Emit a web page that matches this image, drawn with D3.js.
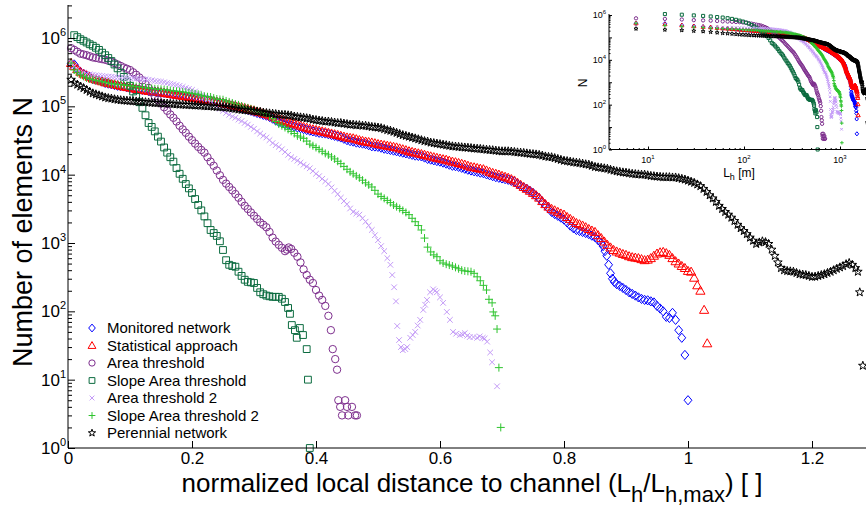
<!DOCTYPE html>
<html>
<head>
<meta charset="utf-8">
<script src="https://cdn.jsdelivr.net/npm/d3@7"></script>
<style>
  body { margin: 0; background: #fff; }
  svg text { font-family: "Liberation Sans", Arial, Helvetica, sans-serif; fill: #000; }
</style>
</head>
<body>
<div id="container"></div>
<script>
/**
 * CONSTANTS AND GLOBALS
 * */
const width = 866,
  height = 509;

// L_h,max in metres: the inset shows the same counts against L_h itself
const LH_MAX = 1500;

/**
 * DATA  number of elements N.
 * "...Body" arrays hold one value per bin of 0.005 (L_h/L_h,max),
 * first bin at 0.005, ten bins per line.
 * "...Tail" arrays hold the sparse end of each curve as [x, N].
 * */
const BIN_STEP = 0.005;

const monitoredBody = [
  4.2e5,4.1e5,3.5e5,3.2e5,3e5,2.8e5,2.65e5,2.5e5,2.45e5,2.4e5,
  2.3e5,2.2e5,2.15e5,2.1e5,2.05e5,2e5,1.98e5,1.95e5,1.9e5,1.86e5,
  1.83e5,1.8e5,1.77e5,1.74e5,1.71e5,1.68e5,1.66e5,1.65e5,1.62e5,1.6e5,
  1.57e5,1.55e5,1.52e5,1.5e5,1.48e5,1.47e5,1.43e5,1.4e5,1.38e5,1.37e5,
  1.33e5,1.3e5,1.29e5,1.28e5,1.25e5,1.22e5,1.19e5,1.16e5,1.14e5,1.12e5,
  1.09e5,1.06e5,1.03e5,1.01e5,9.8e4,9.5e4,9.2e4,8.9e4,8.6e4,8.3e4,
  8e4,7.8e4,7.5e4,7.3e4,7e4,6.6e4,6.2e4,5.9e4,5.7e4,5.5e4,
  5.35e4,5.2e4,5.05e4,4.9e4,4.8e4,4.65e4,4.5e4,4.4e4,4.3e4,4.2e4,
  4.1e4,4.05e4,4e4,3.9e4,3.8e4,3.7e4,3.6e4,3.5e4,3.35e4,3.2e4,
  3.1e4,3.05e4,2.95e4,2.9e4,2.85e4,2.8e4,2.7e4,2.6e4,2.58e4,2.55e4,
  2.48e4,2.4e4,2.35e4,2.3e4,2.25e4,2.2e4,2.15e4,2.1e4,2.05e4,2e4,
  1.95e4,1.9e4,1.88e4,1.85e4,1.78e4,1.7e4,1.66e4,1.62e4,1.58e4,1.55e4,
  1.5e4,1.45e4,1.4e4,1.35e4,1.33e4,1.3e4,1.26e4,1.22e4,1.18e4,1.15e4,
  1.12e4,1.1e4,1.07e4,1.05e4,1.01e4,9.8e3,9.5e3,9.2e3,9e3,8.8e3,
  8.6e3,8.4e3,8.1e3,7.8e3,7.3e3,6.8e3,6.5e3,6.2e3,5.8e3,5.4e3,
  4.9e3,4.5e3,4e3,3.6e3,3.2e3,2.85e3,2.65e3,2.5e3,2.35e3,2.2e3,
  2e3,1.8e3,1.65e3,1.55e3,1.5e3,1.45e3,1.4e3,1.35e3,1.28e3,1.22e3,
  1.1e3,1e3
];
const monitoredTail = [
  [0.863,900],[0.866,760],[0.869,650],[0.872,480],[0.875,360],[0.878,300],[0.881,270],[0.885,250],[0.89,235],[0.895,220],
  [0.9,205],[0.905,190],[0.91,180],[0.915,170],[0.92,160],[0.925,152],[0.93,147],[0.935,145],[0.94,140],[0.945,135],
  [0.95,120],[0.955,110],[0.96,100],[0.965,83],[0.97,80],[0.975,95],[0.98,75],[0.985,53],[0.99,41],[0.995,23],[1.0,5]
];

const statisticalBody = [
  4.3e5,3.9e5,3.5e5,3.2e5,3e5,2.85e5,2.7e5,2.55e5,2.48e5,2.4e5,
  2.32e5,2.25e5,2.2e5,2.15e5,2.1e5,2.05e5,2e5,1.95e5,1.92e5,1.88e5,
  1.84e5,1.8e5,1.77e5,1.74e5,1.71e5,1.68e5,1.66e5,1.64e5,1.62e5,1.6e5,
  1.57e5,1.55e5,1.52e5,1.5e5,1.47e5,1.45e5,1.42e5,1.4e5,1.37e5,1.35e5,
  1.32e5,1.3e5,1.28e5,1.26e5,1.24e5,1.22e5,1.19e5,1.17e5,1.14e5,1.12e5,
  1.09e5,1.07e5,1.04e5,1.02e5,9.9e4,9.7e4,9.4e4,9.2e4,8.9e4,8.7e4,
  8.4e4,8.2e4,7.9e4,7.7e4,7.4e4,7.1e4,6.8e4,6.5e4,6.3e4,6.1e4,
  5.9e4,5.7e4,5.55e4,5.4e4,5.2e4,5e4,4.85e4,4.7e4,4.6e4,4.5e4,
  4.4e4,4.3e4,4.2e4,4.1e4,4e4,3.9e4,3.8e4,3.7e4,3.6e4,3.5e4,
  3.45e4,3.4e4,3.3e4,3.2e4,3.12e4,3.05e4,3e4,2.95e4,2.88e4,2.8e4,
  2.75e4,2.7e4,2.65e4,2.6e4,2.55e4,2.5e4,2.42e4,2.35e4,2.28e4,2.2e4,
  2.15e4,2.1e4,2.05e4,2e4,1.95e4,1.9e4,1.85e4,1.8e4,1.76e4,1.72e4,
  1.68e4,1.65e4,1.6e4,1.55e4,1.52e4,1.48e4,1.44e4,1.4e4,1.35e4,1.3e4,
  1.28e4,1.25e4,1.22e4,1.2e4,1.15e4,1.1e4,1.06e4,1.03e4,1e4,9.6e3,
  9.3e3,9e3,8.6e3,8.2e3,7.6e3,7.1e3,6.6e3,6.2e3,5.8e3,5.4e3,
  5e3,4.6e3,4.1e3,3.7e3,3.4e3,3.15e3,3e3,2.85e3,2.7e3,2.6e3,
  2.4e3,2.25e3,2.1e3,1.96e3,1.88e3,1.8e3,1.7e3,1.6e3,1.52e3,1.45e3,
  1.3e3,1.18e3,1.05e3,940,860,790,750,720,690,670,
  640,620,610,600,580,560,570,600,650,700,
  730,740,710,670,600,540,500,460
];
const statisticalTail = [
  [0.995,430],[1.0,390],[1.005,380],[1.01,310],[1.015,240],[1.02,200],[1.026,105],[1.031,34]
];

const areaBody = [
  7.1e5,6.7e5,6.3e5,5.9e5,5.75e5,5.6e5,5.4e5,5.2e5,5.1e5,5e5,
  4.9e5,4.8e5,4.65e5,4.5e5,4.3e5,4.1e5,3.9e5,3.7e5,3.55e5,3.4e5,
  3.15e5,2.9e5,2.65e5,2.4e5,2.1e5,1.86e5,1.6e5,1.4e5,1.25e5,1.1e5,
  9.7e4,8.6e4,7.6e4,6.8e4,6e4,5.2e4,4.6e4,4.1e4,3.6e4,3.2e4,
  2.85e4,2.55e4,2.3e4,2.1e4,1.8e4,1.55e4,1.35e4,1.15e4,9.8e3,8.4e3,
  7.4e3,6.6e3,5.9e3,5.2e3,4.6e3,4e3,3.5e3,3.15e3,2.8e3,2.5e3,
  2.25e3,2e3,1.85e3,1.7e3,1.45e3,1.2e3,1.05e3,940
];
const areaTail = [
  [0.345,850],[0.35,760],[0.353,800],[0.356,860],[0.36,820],[0.365,720],[0.37,630],[0.375,520],[0.38,410],[0.385,340],
  [0.39,290],[0.395,260],[0.4,205],[0.405,170],[0.41,147],[0.415,120],[0.42,86],[0.424,53],[0.427,28],[0.431,20],
  [0.434,14],[0.436,5],[0.447,5],[0.439,4],[0.45,4],[0.458,4],[0.442,3],[0.452,3],[0.463,3],[0.466,3]
];

const slopeAreaBody = [
  null,1.1e6,1.03e6,9.6e5,9.1e5,8.6e5,8.1e5,7.7e5,7.2e5,6.7e5,
  6.1e5,5.6e5,5.1e5,4.6e5,4.1e5,3.6e5,3.1e5,2.7e5,2.3e5,2e5,
  1.65e5,1.37e5,1.15e5,9.5e4,7.4e4,5.7e4,5e4,4.3e4,3.6e4,3.05e4,
  2.5e4,2.1e4,1.8e4,1.55e4,1.25e4,1.03e4,8.7e3,7.3e3,6.3e3,5.4e3,
  4.4e3,3.6e3,3e3,2.45e3,1.95e3,1.55e3,1.4e3,1.27e3,1.06e3,790
];
const slopeAreaTail = [
  [0.255,560],[0.26,480],[0.265,460],[0.27,450],[0.275,380],[0.28,330],[0.285,290],[0.29,270],[0.295,265],[0.3,260],
  [0.305,220],[0.31,190],[0.315,178],[0.32,170],[0.325,166],[0.33,163],[0.335,163],[0.34,163],[0.345,153],[0.35,137],
  [0.355,112],[0.358,92],[0.361,63],[0.366,53],[0.369,41],[0.374,57],[0.379,45],[0.385,28],[0.387,10],[0.39,1]
];

const area2Body = [
  4.4e5,3.9e5,3.5e5,3.2e5,3.1e5,3e5,2.95e5,2.9e5,2.85e5,2.8e5,
  2.78e5,2.75e5,2.72e5,2.7e5,2.68e5,2.65e5,2.62e5,2.6e5,2.6e5,2.6e5,
  2.58e5,2.55e5,2.52e5,2.5e5,2.48e5,2.45e5,2.4e5,2.35e5,2.32e5,2.3e5,
  2.25e5,2.2e5,2.15e5,2.1e5,2.05e5,2e5,1.93e5,1.86e5,1.8e5,1.74e5,
  1.65e5,1.55e5,1.46e5,1.37e5,1.26e5,1.16e5,1.07e5,9.8e4,9.2e4,8.6e4,
  8e4,7.5e4,7.1e4,6.8e4,6.4e4,6.1e4,5.7e4,5.4e4,5e4,4.7e4,
  4.3e4,4e4,3.7e4,3.5e4,3.2e4,2.9e4,2.7e4,2.55e4,2.35e4,2.15e4,
  1.95e4,1.8e4,1.7e4,1.6e4,1.5e4,1.4e4,1.32e4,1.24e4,1.13e4,1.03e4,
  9.5e3,8.7e3,8e3,7.3e3,6.5e3,5.8e3,5.2e3,4.6e3,4.1e3,3.7e3,
  3.2e3,2.85e3,2.7e3,2.6e3,2.3e3,2.05e3,1.8e3,1.55e3,1.3e3,1.1e3
];
const area2Tail = [
  [0.505,900],[0.51,760],[0.515,600],[0.52,480],[0.523,340],[0.526,225],[0.529,140],[0.531,61],[0.534,38],[0.537,30],
  [0.54,27],[0.544,28],[0.547,30],[0.552,41],[0.556,45],[0.56,50],[0.564,62],[0.568,75],[0.573,105],[0.576,125],
  [0.579,147],[0.584,190],[0.589,210],[0.592,200],[0.595,190],[0.6,160],[0.605,133],[0.611,98],[0.616,75],[0.621,50],
  [0.626,47],[0.632,45],[0.636,46],[0.64,48],[0.644,44],[0.648,42],[0.654,42],[0.66,41],[0.664,43],[0.669,41],
  [0.672,40],[0.676,36],[0.681,25],[0.684,18],[0.692,8]
];

const slopeArea2Body = [
  4.3e5,3.4e5,3.1e5,2.9e5,2.75e5,2.6e5,2.52e5,2.45e5,2.4e5,2.35e5,
  2.3e5,2.25e5,2.2e5,2.15e5,2.12e5,2.1e5,2.07e5,2.05e5,2.02e5,2e5,
  1.97e5,1.95e5,1.92e5,1.9e5,1.87e5,1.85e5,1.82e5,1.8e5,1.78e5,1.77e5,
  1.75e5,1.74e5,1.7e5,1.68e5,1.66e5,1.65e5,1.62e5,1.6e5,1.57e5,1.55e5,
  1.52e5,1.5e5,1.45e5,1.4e5,1.38e5,1.37e5,1.32e5,1.28e5,1.26e5,1.25e5,
  1.2e5,1.16e5,1.12e5,1.08e5,1.05e5,1.01e5,9.8e4,9.5e4,9.2e4,8.9e4,
  8.6e4,8.3e4,8e4,7.8e4,7.2e4,6.6e4,6e4,5.5e4,5.2e4,4.9e4,
  4.6e4,4.3e4,4e4,3.7e4,3.55e4,3.4e4,3.1e4,2.8e4,2.65e4,2.5e4,
  2.35e4,2.2e4,2.05e4,1.95e4,1.82e4,1.7e4,1.57e4,1.45e4,1.32e4,1.2e4,
  1.1e4,1.03e4,9.6e3,9e3,8.3e3,7.6e3,7.1e3,6.6e3,5.9e3,5.2e3,
  4.8e3,4.5e3,4.2e3,3.9e3,3.6e3,3.4e3,3.2e3,3e3,2.8e3,2.6e3,
  2.3e3,2.05e3,1.8e3,1.55e3
];
const slopeArea2Tail = [
  [0.575,1.18e3],[0.58,870],[0.585,740],[0.59,670],[0.595,630],[0.6,550],[0.605,510],[0.61,490],[0.615,475],[0.62,460],
  [0.625,440],[0.63,420],[0.635,400],[0.64,390],[0.645,385],[0.65,380],[0.655,360],[0.66,320],[0.665,280],[0.67,240],
  [0.675,205],[0.679,150],[0.684,133],[0.686,98],[0.689,86],[0.692,55],[0.695,15],[0.698,2]
];

const perennialBody = [
  2.45e5,2.2e5,2.08e5,1.95e5,1.85e5,1.74e5,1.64e5,1.55e5,1.5e5,1.45e5,
  1.4e5,1.35e5,1.32e5,1.3e5,1.27e5,1.25e5,1.23e5,1.22e5,1.21e5,1.2e5,
  1.19e5,1.18e5,1.17e5,1.16e5,1.15e5,1.14e5,1.13e5,1.12e5,1.12e5,1.11e5,
  1.1e5,1.1e5,1.09e5,1.08e5,1.07e5,1.06e5,1.06e5,1.05e5,1.05e5,1.04e5,
  1.03e5,1.03e5,1.02e5,1.01e5,1e5,1e5,9.9e4,9.8e4,9.8e4,9.7e4,
  9.6e4,9.5e4,9.3e4,9.2e4,9e4,8.9e4,8.8e4,8.7e4,8.6e4,8.5e4,
  8.4e4,8.3e4,8.1e4,8e4,7.9e4,7.8e4,7.7e4,7.6e4,7.5e4,7.5e4,
  7.4e4,7.3e4,7.1e4,7e4,6.9e4,6.8e4,6.7e4,6.6e4,6.4e4,6.3e4,
  6.2e4,6.1e4,6e4,6e4,5.9e4,5.8e4,5.7e4,5.7e4,5.6e4,5.5e4,
  5.4e4,5.4e4,5.3e4,5.3e4,5.2e4,5.2e4,5.1e4,5e4,4.95e4,4.9e4,
  4.8e4,4.65e4,4.5e4,4.4e4,4.25e4,4.1e4,3.95e4,3.8e4,3.7e4,3.6e4,
  3.5e4,3.4e4,3.3e4,3.2e4,3.1e4,3.05e4,2.95e4,2.9e4,2.85e4,2.8e4,
  2.75e4,2.7e4,2.65e4,2.6e4,2.58e4,2.55e4,2.52e4,2.5e4,2.48e4,2.45e4,
  2.42e4,2.4e4,2.38e4,2.35e4,2.32e4,2.3e4,2.28e4,2.25e4,2.22e4,2.2e4,
  2.2e4,2.2e4,2.18e4,2.15e4,2.12e4,2.1e4,2.08e4,2.05e4,2.02e4,2e4,
  1.98e4,1.95e4,1.9e4,1.85e4,1.82e4,1.8e4,1.75e4,1.7e4,1.65e4,1.6e4,
  1.58e4,1.55e4,1.52e4,1.5e4,1.48e4,1.45e4,1.42e4,1.4e4,1.35e4,1.3e4,
  1.28e4,1.26e4,1.24e4,1.22e4,1.18e4,1.15e4,1.12e4,1.1e4,1.08e4,1.07e4,
  1.05e4,1.03e4,1.02e4,1.01e4,1e4,1e4,9.8e3,9.6e3,9.5e3,9.4e3,
  9.3e3,9.2e3,9.2e3,9.2e3,9.1e3,9.1e3,8.9e3,8.7e3,8.5e3,8.2e3,
  7.9e3,7.6e3,7.2e3,6.8e3,6.2e3,5.6e3,5e3,4.5e3,4e3,3.5e3,
  3.15e3,2.85e3,2.6e3,2.35e3,2.1e3,1.85e3,1.65e3,1.5e3,1.35e3,1.2e3,
  1.08e3,970,1.02e3,1.06e3,1.03e3,970,800,650,520,430,
  400,390,385,380,365,350,345,340,330,320,
  322,330,340,350,365,380,400,420,440,460,
  490,510,480,430
];
const perennialTail = [[1.274,380],[1.277,190],[1.282,16]];

const seriesNames = [
  "Monitored network", "Statistical approach", "Area threshold", "Slope Area threshold",
  "Area threshold 2", "Slope Area threshold 2", "Perennial network"
];
const seriesColors = ["#0000ff", "#ff0000", "#7e2f8e", "#0b6b3f", "#c49bf7", "#2fc42f", "#000000"];
const seriesShapes = ["diamond", "triangle", "circle", "square", "cross", "plus", "star"];

const xTicks = [0, 0.2, 0.4, 0.6, 0.8, 1, 1.2];
const yDecades = [0, 1, 2, 3, 4, 5, 6];
const insetXDecades = [1, 2, 3];
const insetYLabels = [0, 2, 4, 6];

// body bins -> [x, N], then the sparse tail
function toPoints(body, tail) {
  return body
    .map((n, i) => [(i + 1) * BIN_STEP, n])
    .filter((d) => d[1] != null)
    .concat(tail);
}
const seriesData = [
  toPoints(monitoredBody, monitoredTail),
  toPoints(statisticalBody, statisticalTail),
  toPoints(areaBody, areaTail),
  toPoints(slopeAreaBody, slopeAreaTail),
  toPoints(area2Body, area2Tail),
  toPoints(slopeArea2Body, slopeArea2Tail),
  toPoints(perennialBody, perennialTail),
];

/**
 * MARKER PATHS (matlab style open markers)
 * */
function markerPath(shape, s) {
  switch (shape) {
    case "diamond":
      return `M0,${-s}L${s * 0.85},0L0,${s}L${-s * 0.85},0Z`;
    case "triangle":
      return `M0,${-s}L${s},${s * 0.75}L${-s},${s * 0.75}Z`;
    case "circle":
      return `M${s},0A${s},${s} 0 1,1 ${-s},0A${s},${s} 0 1,1 ${s},0Z`;
    case "square":
      return `M${-s},${-s}h${2 * s}v${2 * s}h${-2 * s}Z`;
    case "cross":
      return `M${-s},${-s}L${s},${s}M${-s},${s}L${s},${-s}`;
    case "plus":
      return `M${-s},0H${s}M0,${-s}V${s}`;
    case "star": {
      const pts = d3.range(10).map((i) => {
        const r = i % 2 === 0 ? s : s * 0.4;
        const a = -Math.PI / 2 + (i * Math.PI) / 5;
        return [r * Math.cos(a), r * Math.sin(a)];
      });
      return "M" + pts.map((p) => p[0].toFixed(2) + "," + p[1].toFixed(2)).join("L") + "Z";
    }
  }
}
// marker half sizes for the big plot
const markerSize = { diamond: 4.6, triangle: 4.6, circle: 3.7, square: 3.4, cross: 2.8, plus: 4, star: 4.5 };

const svg = d3
  .select("#container")
  .append("svg")
  .attr("width", width)
  .attr("height", height);

/**
 * MAIN PLOT
 * */
const x = d3.scaleLinear().domain([0, 1.2]).range([68, 812]);
const y = d3.scaleLog().domain([1, 1e6]).range([448, 38]);

const minorY = [];
yDecades.forEach((e) => {
  for (let m = 2; m <= 9; m++) if (y(m * 10 ** e) > 5) minorY.push(m * 10 ** e);
});

// markers, drawn in legend order (last on top)
seriesData.forEach((data, i) => {
  svg
    .append("g")
    .selectAll("path")
    .data(data)
    .join("path")
    .attr("d", markerPath(seriesShapes[i], markerSize[seriesShapes[i]]))
    .attr("transform", (d) => `translate(${x(d[0])},${y(d[1])})`)
    .attr("fill", "none")
    .attr("stroke", seriesColors[i])
    .attr("stroke-width", 1);
});

// axes lines
svg.append("line").attr("x1", 68).attr("x2", 68).attr("y1", 5).attr("y2", 448).attr("stroke", "#000");
svg.append("line").attr("x1", 68).attr("x2", 866).attr("y1", 448).attr("y2", 448).attr("stroke", "#000");

// x ticks (inside)
const xAxis = svg
  .append("g")
  .attr("transform", "translate(0,448)")
  .call(d3.axisBottom(x).tickValues(xTicks).tickSize(-7).tickSizeOuter(0).tickPadding(4).tickFormat((d) => String(d)));
xAxis.select(".domain").remove();
xAxis.selectAll("text").attr("font-size", 17).attr("font-family", null);

// y ticks (inside), major + minor
const yAxis = svg
  .append("g")
  .attr("transform", "translate(68,0)")
  .call(d3.axisLeft(y).tickValues(yDecades.map((e) => 10 ** e)).tickSize(-7).tickSizeOuter(0).tickFormat(""));
yAxis.select(".domain").remove();
const yMinor = svg
  .append("g")
  .attr("transform", "translate(68,0)")
  .call(d3.axisLeft(y).tickValues(minorY).tickSize(-4).tickSizeOuter(0).tickFormat(""));
yMinor.select(".domain").remove();

svg
  .append("g")
  .selectAll("text")
  .data(yDecades)
  .join("text")
  .attr("x", 66)
  .attr("y", (e) => y(10 ** e) + 6)
  .attr("text-anchor", "end")
  .attr("font-size", 17)
  .call((t) => {
    t.append("tspan").text("10");
    t.append("tspan").attr("font-size", 11).attr("dy", -8).text((e) => e);
  });

// axis titles
svg
  .append("text")
  .attr("transform", "translate(32,232) rotate(-90)")
  .attr("text-anchor", "middle")
  .attr("font-size", 27)
  .text("Number of elements N");

const xTitle = svg.append("text").attr("x", 472).attr("y", 492).attr("text-anchor", "middle").attr("font-size", 26);
xTitle.append("tspan").text("normalized local distance to channel (L");
xTitle.append("tspan").attr("font-size", 22).attr("dy", 10).text("h");
xTitle.append("tspan").attr("dy", -10).text("/L");
xTitle.append("tspan").attr("font-size", 22).attr("dy", 10).text("h,max");
xTitle.append("tspan").attr("dy", -10).text(") [ ]");

/**
 * LEGEND
 * */
const legend = svg
  .append("g")
  .selectAll("g")
  .data(seriesNames)
  .join("g")
  .attr("transform", (d, i) => `translate(92,${328 + i * 17.5})`);
legend
  .append("path")
  .attr("d", (d, i) => markerPath(seriesShapes[i], markerSize[seriesShapes[i]] * 0.85))
  .attr("fill", "none")
  .attr("stroke", (d, i) => seriesColors[i]);
legend
  .append("text")
  .attr("x", 15)
  .attr("y", 5)
  .attr("font-size", 15)
  .text((d) => d);

/**
 * INSET (same data against L_h in metres, log-log)
 * */
const ix = d3.scaleLog().domain([10, 1000]).range([648, 840]);
const iy = d3.scaleLog().domain([1, 1e6]).range([149.5, 15]);
const inset = svg.append("g");

seriesData.forEach((data, i) => {
  inset
    .append("g")
    .selectAll("path")
    .data(data)
    .join("path")
    .attr("d", markerPath(seriesShapes[i], markerSize[seriesShapes[i]] * 0.45))
    .attr("transform", (d) => `translate(${ix(d[0] * LH_MAX)},${iy(d[1])})`)
    .attr("fill", "none")
    .attr("stroke", seriesColors[i])
    .attr("stroke-width", 1);
});

inset.append("line").attr("x1", 609).attr("x2", 609).attr("y1", 14).attr("y2", 149.5).attr("stroke", "#000");
inset.append("line").attr("x1", 609).attr("x2", 866).attr("y1", 149.5).attr("y2", 149.5).attr("stroke", "#000");

const insetMinorX = [];
[0, 1, 2, 3].forEach((e) => {
  for (let m = 2; m <= 9; m++) {
    const v = m * 10 ** e;
    if (ix(v) > 609 && ix(v) < 866) insetMinorX.push(v);
  }
});
const insetMinorY = [];
[0, 1, 2, 3, 4, 5].forEach((e) => {
  for (let m = 2; m <= 9; m++) insetMinorY.push(m * 10 ** e);
});

const ixAxis = inset
  .append("g")
  .attr("transform", "translate(0,149.5)")
  .call(d3.axisBottom(ix).tickValues(insetXDecades.map((e) => 10 ** e)).tickSize(-3).tickSizeOuter(0).tickFormat(""));
ixAxis.select(".domain").remove();
const ixMinor = inset
  .append("g")
  .attr("transform", "translate(0,149.5)")
  .call(d3.axisBottom(ix).tickValues(insetMinorX).tickSize(-1.5).tickSizeOuter(0).tickFormat(""));
ixMinor.select(".domain").remove();
const iyAxis = inset
  .append("g")
  .attr("transform", "translate(609,0)")
  .call(d3.axisLeft(iy).tickValues(d3.range(0, 7).map((e) => 10 ** e)).tickSize(-3).tickSizeOuter(0).tickFormat(""));
iyAxis.select(".domain").remove();
const iyMinor = inset
  .append("g")
  .attr("transform", "translate(609,0)")
  .call(d3.axisLeft(iy).tickValues(insetMinorY).tickSize(-1.5).tickSizeOuter(0).tickFormat(""));
iyMinor.select(".domain").remove();

inset
  .append("g")
  .selectAll("text")
  .data(insetXDecades)
  .join("text")
  .attr("x", (e) => ix(10 ** e))
  .attr("y", 163)
  .attr("text-anchor", "middle")
  .attr("font-size", 9)
  .call((t) => {
    t.append("tspan").text("10");
    t.append("tspan").attr("font-size", 6).attr("dy", -4).text((e) => e);
  });

inset
  .append("g")
  .selectAll("text")
  .data(insetYLabels)
  .join("text")
  .attr("x", 606)
  .attr("y", (e) => iy(10 ** e) + 3)
  .attr("text-anchor", "end")
  .attr("font-size", 9)
  .call((t) => {
    t.append("tspan").text("10");
    t.append("tspan").attr("font-size", 6).attr("dy", -4).text((e) => e);
  });

const insetXLabel = inset.append("text").attr("x", 739).attr("y", 177).attr("text-anchor", "middle").attr("font-size", 12);
insetXLabel.append("tspan").text("L");
insetXLabel.append("tspan").attr("font-size", 9).attr("dy", 3).text("h");
insetXLabel.append("tspan").attr("dy", -3).text(" [m]");

inset
  .append("text")
  .attr("transform", "translate(587,83) rotate(-90)")
  .attr("text-anchor", "middle")
  .attr("font-size", 12)
  .text("N");
</script>
</body>
</html>
